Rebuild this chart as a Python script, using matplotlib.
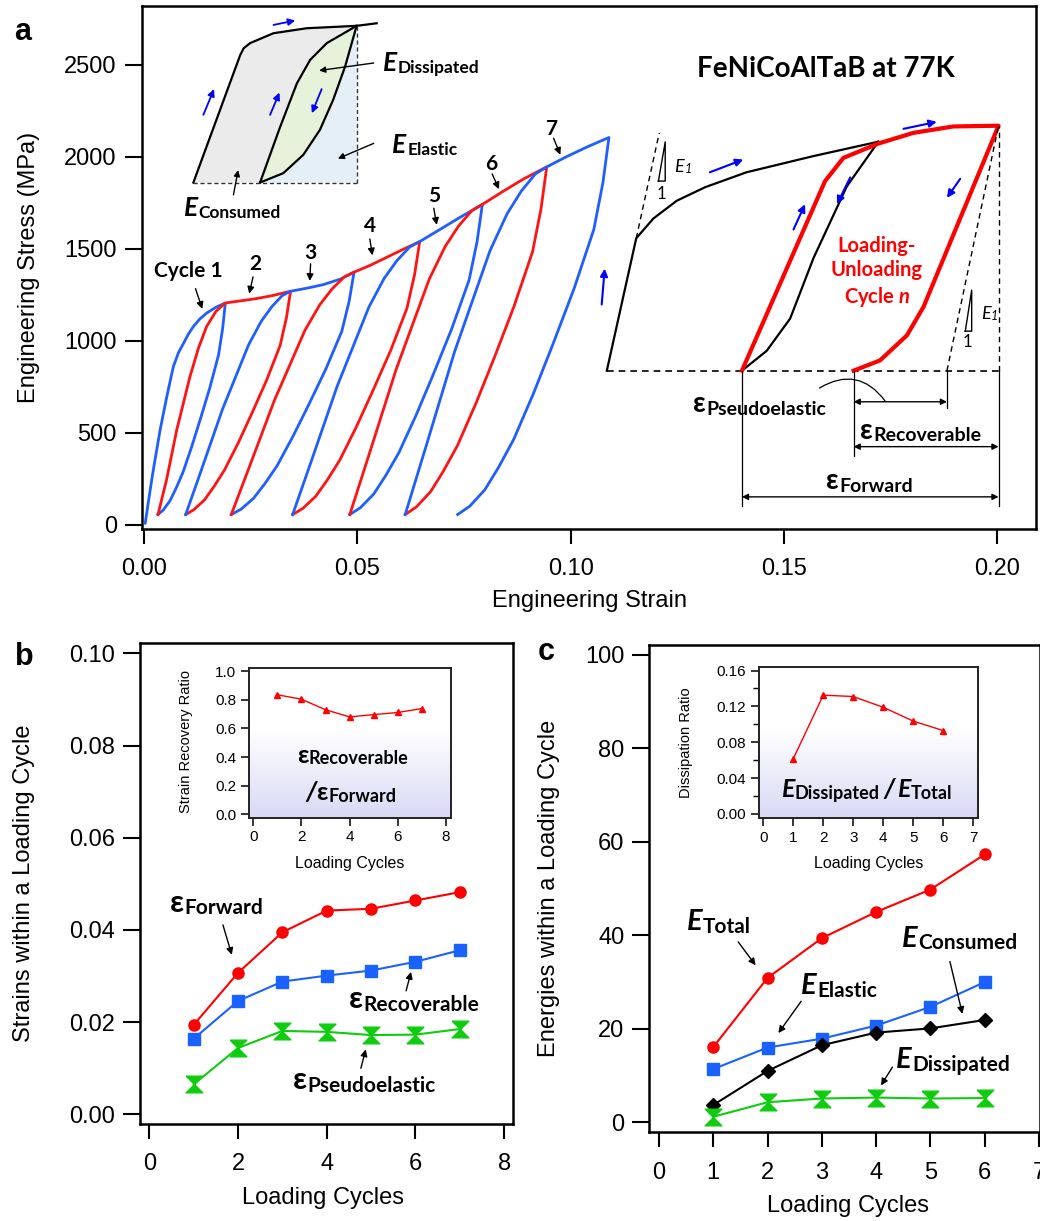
import numpy as np
import matplotlib
matplotlib.use("Agg")
import matplotlib.pyplot as plt
from matplotlib.ticker import MultipleLocator, FormatStrFormatter
from matplotlib.colors import LinearSegmentedColormap

plt.rcParams['font.family'] = ['Liberation Sans', 'DejaVu Sans']
plt.rcParams['mathtext.fontset'] = 'custom'
plt.rcParams['mathtext.it'] = 'Lato:bold:italic'
ANN = ['Lato', 'DejaVu Sans']

BLUE = '#1f5eff'
RED = '#ff1414'
GREEN = '#0fcc0f'

# ---------------- panel a: stress-strain cycles (strain, MPa) ----------------
# each cycle = reload from previous residual strain, envelope to new peak, unload
c1_strain = [0.0002, 0.0019, 0.0037, 0.0053, 0.0068, 0.0080, 0.0092, 0.0103, 0.0115, 0.0130,
             0.0146, 0.0168, 0.0190,
             0.01837, 0.01742, 0.01537, 0.01315, 0.0111, 0.00905, 0.00747, 0.00604, 0.00446, 0.0032]
c1_stress = [8, 270, 515, 700, 859, 935, 986, 1035, 1077, 1118, 1150, 1182, 1205,
             1067, 924, 745, 575, 423, 284, 199, 131, 80, 55]
c2_strain = [0.0032, 0.0052, 0.0076, 0.0107, 0.0127, 0.0146, 0.0168, 0.0190,
             0.0220, 0.0260, 0.0300, 0.0343,
             0.03332, 0.03184, 0.02864, 0.0252, 0.0220, 0.0188, 0.01634, 0.01413, 0.01167, 0.0097]
c2_stress = [55, 243, 515, 805, 960, 1077, 1160, 1205, 1215, 1228, 1245, 1269,
             1123, 973, 783, 604, 443, 297, 207, 135, 82, 55]
c3_strain = [0.0097, 0.01339, 0.01831, 0.02446, 0.02741, 0.02987, 0.03233, 0.0343,
             0.0380, 0.0420, 0.0460, 0.0492,
             0.04805, 0.04632, 0.04258, 0.03854, 0.0348, 0.03106, 0.02818, 0.02558, 0.0227, 0.0204]
c3_stress = [55, 298, 626, 978, 1105, 1184, 1245, 1269, 1285, 1305, 1335, 1373,
             1215, 1051, 846, 651, 477, 317, 220, 142, 84, 55]
c4_strain = [0.0204, 0.02472, 0.03048, 0.03768, 0.04114, 0.04402, 0.0469, 0.0492,
             0.0530, 0.0570, 0.0610, 0.0646,
             0.06341, 0.06162, 0.05775, 0.05357, 0.0497, 0.04583, 0.04285, 0.04016, 0.03718, 0.0348]
c4_stress = [55, 319, 674, 1057, 1195, 1281, 1347, 1373, 1410, 1455, 1500, 1539,
             1361, 1177, 945, 726, 530, 350, 240, 153, 88, 55]
c5_strain = [0.0348, 0.03927, 0.04523, 0.05268, 0.05626, 0.05924, 0.06222, 0.0646,
             0.0690, 0.0740, 0.0793,
             0.07806, 0.07619, 0.07215, 0.06779, 0.06375, 0.05971, 0.0566, 0.0538, 0.05069, 0.0482]
c5_stress = [55, 352, 752, 1183, 1339, 1435, 1509, 1539, 1600, 1670, 1741,
             1539, 1330, 1067, 817, 595, 391, 266, 166, 92, 55]
c6_strain = [0.0482, 0.05287, 0.05909, 0.06686, 0.07059, 0.0737, 0.07681, 0.0793,
             0.0840, 0.0890, 0.0944,
             0.09307, 0.09108, 0.08676, 0.08212, 0.0778, 0.07348, 0.07016, 0.06718, 0.06386, 0.0612]
c6_stress = [55, 392, 845, 1336, 1513, 1623, 1707, 1741, 1810, 1880, 1945,
             1718, 1484, 1189, 909, 660, 431, 291, 180, 97, 55]
c7_strain = [0.0612, 0.06618, 0.07282, 0.08112, 0.0851, 0.08842, 0.09174, 0.0944,
             0.0990, 0.1040, 0.1090,
             0.10758, 0.10545, 0.10084, 0.09587, 0.09125, 0.08664, 0.08309, 0.07989, 0.07634, 0.0735]
c7_stress = [55, 433, 943, 1491, 1690, 1813, 1907, 1945, 2000, 2055, 2105,
             1859, 1605, 1285, 982, 711, 463, 311, 190, 100, 55]
cycle_labels = ['Cycle 1', '2', '3', '4', '5', '6', '7']

# energy schematic (top left)
sch_load_x = [0.0115, 0.0225, 0.0233, 0.0248, 0.0303, 0.0381, 0.0498, 0.0545]
sch_load_y = [1860, 2554, 2590, 2618, 2672, 2699, 2712, 2726]
sch_reload_x = [0.02715, 0.0318, 0.0358, 0.0389, 0.0428, 0.0498]
sch_reload_y = [1860, 2159, 2400, 2527, 2618, 2712]
sch_unload_x = [0.0498, 0.0471, 0.0443, 0.0412, 0.0373, 0.0326, 0.02715]
sch_unload_y = [2712, 2491, 2310, 2147, 2011, 1911, 1860]

# loading-unloading schematic (right)
ref_load_x = [0.1085, 0.1154, 0.1194, 0.1249, 0.1316, 0.1413, 0.1570, 0.1722]
ref_load_y = [837, 1557, 1664, 1761, 1835, 1916, 2004, 2082]
ref_unload_x = [0.1722, 0.1648, 0.1570, 0.1515, 0.1460, 0.1402]
ref_unload_y = [2082, 1839, 1450, 1120, 945, 837]
cyc_x = [0.1402, 0.1597, 0.1640, 0.1722, 0.1804, 0.1898, 0.2004, 0.1828, 0.1789, 0.1726, 0.1664]
cyc_y = [837, 1868, 1994, 2072, 2130, 2165, 2169, 1184, 1029, 893, 837]

# ---------------- panel b ----------------
cycles_b = [1, 2, 3, 4, 5, 6, 7]
eps_forward = [0.0194, 0.0307, 0.0395, 0.0442, 0.0446, 0.0464, 0.0482]
eps_recoverable = [0.0164, 0.0246, 0.0288, 0.0301, 0.0312, 0.0331, 0.0356]
eps_pseudo = [0.0065, 0.0144, 0.0181, 0.0179, 0.0172, 0.0173, 0.0185]
recovery_ratio = [0.836, 0.805, 0.731, 0.681, 0.697, 0.712, 0.739]

# ---------------- panel c ----------------
cycles_c = [1, 2, 3, 4, 5, 6]
e_total = [16.1, 30.9, 39.4, 45.0, 49.8, 57.3]
e_elastic = [11.4, 16.0, 17.9, 20.7, 24.7, 30.0]
e_consumed = [3.7, 11.0, 16.5, 19.2, 20.1, 21.9]
e_dissipated = [1.2, 4.3, 5.1, 5.3, 5.1, 5.2]
dissipation_ratio = [0.0615, 0.1326, 0.131, 0.119, 0.1036, 0.093]

HOURGLASS = [(-1, 1), (1, 1), (-1, -1), (1, -1), (-1, 1)]


def sublabel(ax, x, y, main, sub, size, subsize, color='black', italic=True,
             weight='bold', sub_italic=False, transform=None):
    kw = {} if transform is None else {'transform': transform}
    t = ax.text(x, y, main, fontsize=size, fontweight=weight,
                fontstyle='italic' if italic else 'normal', family=ANN,
                color=color, ha='left', va='baseline', **kw)
    ax.annotate(sub, xy=(1, 0), xycoords=t, xytext=(0.5, 1.5), textcoords='offset points',
                fontsize=subsize, fontweight=weight, family=ANN, color=color,
                fontstyle='italic' if sub_italic else 'normal',
                ha='left', va='baseline')
    return t


def arrow(ax, tail, head, color='black', lw=1.0, ms=11, style='-|>'):
    ax.annotate('', xy=head, xytext=tail,
                arrowprops=dict(arrowstyle=style, color=color, lw=lw,
                                mutation_scale=ms, shrinkA=0, shrinkB=0))


def style_main(ax):
    for s in ax.spines.values():
        s.set_linewidth(1.8)
    ax.tick_params(axis='y', direction='out', length=12, width=1.5, labelsize=17, pad=6)
    ax.tick_params(axis='x', direction='out', length=11, width=1.5, labelsize=17, pad=10)


def style_inset(ax):
    for s in ax.spines.values():
        s.set_linewidth(1.4)
        s.set_color('#222222')
    ax.tick_params(direction='out', length=6, width=1.1, labelsize=11, pad=3)
    grad = np.linspace(0, 1, 256).reshape(-1, 1)
    grad = np.clip((grad - 0.42) / 0.58, 0, 1)
    cmap = LinearSegmentedColormap.from_list('lav', ['#ffffff', '#d9d9f6'])
    ax.imshow(grad, cmap=cmap, aspect='auto', extent=[0, 1, 0, 1],
              transform=ax.transAxes, zorder=0, vmin=0, vmax=1)


fig = plt.figure(figsize=(10.4, 12.21), dpi=100)

# ======================= panel a =======================
ax = fig.add_axes([0.1363, 0.5668, 0.8599, 0.4283])
style_main(ax)
curves = [(c1_strain, c1_stress), (c2_strain, c2_stress), (c3_strain, c3_stress),
          (c4_strain, c4_stress), (c5_strain, c5_stress), (c6_strain, c6_stress),
          (c7_strain, c7_stress)]
for i, (xs, ys) in enumerate(curves):
    ax.plot(xs, ys, color=BLUE if i % 2 == 0 else RED, lw=2.0,
            solid_joinstyle='round', zorder=3)
ax.set_xlim(-0.00061, 0.2092)
ax.set_ylim(-23.4, 2820)
ax.xaxis.set_major_locator(MultipleLocator(0.05))
ax.xaxis.set_major_formatter(FormatStrFormatter('%.2f'))
ax.yaxis.set_major_locator(MultipleLocator(500))
ax.set_xlabel('Engineering Strain', fontsize=17)
ax.set_ylabel('Engineering Stress (MPa)', fontsize=17)
ax.xaxis.set_label_coords(0.501, -0.117)
ax.yaxis.set_label_coords(-0.1137, 0.5)

# cycle number labels and arrows
lab_pos = [(0.0023, 1346), (0.0260, 1387), (0.0389, 1443), (0.0529, 1589),
           (0.0679, 1755), (0.0814, 1928), (0.0957, 2121)]
arr_tail = [(0.0120, 1283), (0.0255, 1347), (0.0390, 1418), (0.0529, 1553),
            (0.0679, 1720), (0.0816, 1907), (0.0960, 2101)]
arr_head = [(0.0136, 1173), (0.0246, 1256), (0.0388, 1325), (0.0535, 1464),
            (0.0686, 1630), (0.0832, 1824), (0.0976, 2011)]
for i, lab in enumerate(cycle_labels):
    ax.text(lab_pos[i][0], lab_pos[i][1], lab, fontsize=15, fontweight='bold', family=ANN,
            ha='left' if i == 0 else 'center', va='baseline')
    arrow(ax, arr_tail[i], arr_head[i], lw=1.0, ms=10)

# energy schematic
poly_gray_x = sch_load_x[:-1] + sch_reload_x[::-1]
poly_gray_y = sch_load_y[:-1] + sch_reload_y[::-1]
ax.fill(poly_gray_x, poly_gray_y, color='#ebebeb', lw=0, zorder=1)
ax.fill(sch_reload_x + sch_unload_x[1:], sch_reload_y + sch_unload_y[1:],
        color='#e6f2da', lw=0, zorder=1)
ax.fill(sch_unload_x + [sch_unload_x[0]], sch_unload_y + [sch_unload_y[-1]],
        color='#e4eff8', lw=0, zorder=1)
ax.plot(sch_load_x, sch_load_y, color='black', lw=1.6, zorder=2)
ax.plot(sch_reload_x, sch_reload_y, color='black', lw=1.6, zorder=2)
ax.plot(sch_unload_x, sch_unload_y, color='black', lw=1.6, zorder=2)
ax.plot([sch_load_x[0], sch_unload_x[0]], [1860, 1860], color='#333333', lw=1.0, ls=(0, (3, 2)))
ax.plot([sch_unload_x[0], sch_unload_x[0]], [1860, 2712], color='#333333', lw=1.0, ls=(0, (3, 2)))
for t, h in [((0.0303, 2717), (0.0354, 2741)), ((0.01384, 2228), (0.01635, 2368)),
             ((0.0295, 2228), (0.0317, 2349)), ((0.0416, 2368), (0.0393, 2237))]:
    arrow(ax, t, h, color='blue', lw=1.3, ms=10)
sublabel(ax, 0.0559, 2464, 'E', 'Dissipated', 19, 12.5)
sublabel(ax, 0.0582, 2021, 'E', 'Elastic', 19, 12.5)
sublabel(ax, 0.00927, 1678, 'E', 'Consumed', 19, 12.5)
arrow(ax, (0.0538, 2510), (0.0410, 2469), ms=9)
arrow(ax, (0.0538, 2073), (0.0454, 1990), ms=9)
arrow(ax, (0.0209, 1793), (0.0220, 1928), ms=9)

ax.text(0.1599, 2432, 'FeNiCoAlTaB at 77K', fontsize=20, fontweight='bold', family=ANN,
        ha='center', va='baseline')

# loading-unloading schematic
ax.plot([0.1085, 0.2004], [837, 837], color='black', lw=1.2, ls=(0, (4, 3)))
ax.plot(ref_load_x, ref_load_y, color='black', lw=1.6)
ax.plot(ref_unload_x, ref_unload_y, color='black', lw=1.6)
ax.plot(cyc_x, cyc_y, color='#ff0000', lw=3.0, solid_joinstyle='round')
ax.plot([0.1154, 0.1208], [1557, 2130], color='black', lw=1.0, ls=(0, (4, 3)))
ax.plot([0.1883, 0.2004], [837, 2169], color='black', lw=1.0, ls=(0, (4, 3)))
ax.plot([0.2004, 0.2004], [837, 2169], color='black', lw=1.0, ls=(0, (4, 3)))
ax.plot([0.1206, 0.1222, 0.1222, 0.1206], [1868, 2081, 1868, 1868], color='black', lw=1.0)
ax.plot([0.1926, 0.1941, 0.1941, 0.1926], [1052, 1275, 1052, 1052], color='black', lw=1.0)
sublabel(ax, 0.1243, 1915, 'E', '1', 13, 9, italic=True, weight='normal', sub_italic=True)
sublabel(ax, 0.1962, 1118, 'E', '1', 13, 9, italic=True, weight='normal', sub_italic=True)
ax.text(0.1212, 1770, '1', fontsize=12, family=ANN, ha='center', va='baseline')
ax.text(0.1932, 965, '1', fontsize=12, family=ANN, ha='center', va='baseline')
for xv, ylo in [(0.1402, 99), (0.1664, 371), (0.1883, 633), (0.2004, 99)]:
    ax.plot([xv, xv], [ylo, 837], color='black', lw=0.9)
arrow(ax, (0.1664, 668), (0.1883, 668), style='<|-|>', ms=9)
arrow(ax, (0.1664, 424), (0.2004, 424), style='<|-|>', ms=9)
arrow(ax, (0.1402, 151), (0.2004, 151), style='<|-|>', ms=9)
ax.annotate('', xy=(0.1738, 672), xytext=(0.1584, 743),
            arrowprops=dict(arrowstyle='-', lw=0.9, color='black',
                            connectionstyle='arc3,rad=-0.45', shrinkA=0, shrinkB=0))
sublabel(ax, 0.1288, 614, '\u03b5', 'Pseudoelastic', 20, 14, italic=False)
sublabel(ax, 0.1679, 468, '\u03b5', 'Recoverable', 20, 14, italic=False)
sublabel(ax, 0.1599, 196, '\u03b5', 'Forward', 20, 14, italic=False)
ax.text(0.1718, 1207, 'Loading-\nUnloading\nCycle $n$', fontsize=14.5, fontweight='bold',
        family=ANN, color='#ff0000', ha='center', va='baseline', linespacing=1.25,
        multialignment='center')
for t, h in [((0.1073, 1197), (0.1080, 1392)), ((0.1327, 1916), (0.1405, 1985)),
             ((0.1523, 1605), (0.1550, 1742)), ((0.1656, 1888), (0.1625, 1742)),
             ((0.1781, 2152), (0.1859, 2190)), ((0.1914, 1880), (0.1883, 1777))]:
    arrow(ax, t, h, color='blue', lw=1.5, ms=11)

fig.text(0.0135, 0.9672, 'a', fontsize=22, fontweight='bold', va='baseline')

# ======================= panel b =======================
bx = fig.add_axes([0.1346, 0.0794, 0.3587, 0.3937])
style_main(bx)
bx.plot(cycles_b, eps_forward, color='#ff0000', lw=1.5, marker='o', ms=8, zorder=3)
bx.plot(cycles_b, eps_recoverable, color='#1a62ff', lw=1.5, marker='s', ms=8, zorder=3)
bx.plot(cycles_b, eps_pseudo, color=GREEN, lw=1.5, marker=HOURGLASS, ms=12, zorder=3)
bx.set_xlim(-0.21, 8.2)
bx.set_ylim(-0.0021, 0.10217)
bx.xaxis.set_major_locator(MultipleLocator(2))
bx.yaxis.set_major_locator(MultipleLocator(0.02))
bx.yaxis.set_major_formatter(FormatStrFormatter('%.2f'))
bx.set_xlabel('Loading Cycles', fontsize=17)
bx.set_ylabel('Strains within a Loading Cycle', fontsize=17)
bx.xaxis.set_label_coords(0.49, -0.130)
bx.yaxis.set_label_coords(-0.2815, 0.501)
sublabel(bx, 0.467, 0.0440, '\u03b5', 'Forward', 22, 15, italic=False)
sublabel(bx, 4.49, 0.02315, '\u03b5', 'Recoverable', 22, 15, italic=False)
sublabel(bx, 3.235, 0.00557, '\u03b5', 'Pseudoelastic', 22, 15, italic=False)
arrow(bx, (1.66, 0.0411), (1.86, 0.0346), ms=10)
arrow(bx, (5.79, 0.0268), (5.90, 0.0309), ms=10)
arrow(bx, (4.77, 0.0100), (4.88, 0.0141), ms=10)
fig.text(0.0144, 0.4557, 'b', fontsize=22, fontweight='bold', va='baseline')

bi = fig.add_axes([0.2394, 0.3301, 0.1942, 0.1232])
style_inset(bi)
bi.plot(cycles_b, recovery_ratio, color='#ff0000', lw=1.0, marker='^', ms=4.5, zorder=3)
bi.set_xlim(-0.18, 8.21)
bi.set_ylim(-0.027, 1.027)
bi.xaxis.set_major_locator(MultipleLocator(2))
bi.yaxis.set_major_locator(MultipleLocator(0.2))
bi.yaxis.set_major_formatter(FormatStrFormatter('%.1f'))
bi.set_xlabel('Loading Cycles', fontsize=11.5)
bi.set_ylabel('Strain Recovery Ratio', fontsize=10.5)
bi.xaxis.set_label_coords(0.5, -0.253)
bi.yaxis.set_label_coords(-0.277, 0.506)
sublabel(bi, 1.80, 0.361, '\u03b5', 'Recoverable', 18, 13, italic=False)
bi.text(2.145, 0.097, '/', fontsize=19, fontweight='bold', fontstyle='italic',
        family=ANN, ha='left', va='baseline')
sublabel(bi, 2.62, 0.097, '\u03b5', 'Forward', 18, 13, italic=False)

# ======================= panel c =======================
cx = fig.add_axes([0.6243, 0.0726, 0.3757, 0.3991])
style_main(cx)
cx.plot(cycles_c, e_total, color='#ff0000', lw=1.5, marker='o', ms=8, zorder=3)
cx.plot(cycles_c, e_elastic, color='#1a62ff', lw=1.5, marker='s', ms=8, zorder=3)
cx.plot(cycles_c, e_consumed, color='black', lw=1.5, marker='D', ms=7, zorder=3)
cx.plot(cycles_c, e_dissipated, color=GREEN, lw=1.5, marker=HOURGLASS, ms=12, zorder=3)
cx.set_xlim(-0.179, 7.02)
cx.set_ylim(-2.14, 102.1)
cx.xaxis.set_major_locator(MultipleLocator(1))
cx.yaxis.set_major_locator(MultipleLocator(20))
cx.set_xlabel('Loading Cycles', fontsize=17)
cx.set_ylabel('Energies within a Loading Cycle', fontsize=17)
cx.xaxis.set_label_coords(0.509, -0.1295)
cx.yaxis.set_label_coords(-0.2286, 0.501)
sublabel(cx, 0.51, 41.2, 'E', 'Total', 21, 15)
sublabel(cx, 2.615, 27.5, 'E', 'Elastic', 21, 15)
sublabel(cx, 4.47, 37.6, 'E', 'Consumed', 21, 15)
sublabel(cx, 4.365, 11.6, 'E', 'Dissipated', 21, 15)
arrow(cx, (1.46, 38.6), (1.78, 33.6), ms=10)
arrow(cx, (2.62, 25.9), (2.20, 19.1), ms=10)
arrow(cx, (5.36, 34.4), (5.59, 23.2), ms=10)
arrow(cx, (4.30, 11.8), (4.09, 7.9), ms=10)
fig.text(0.5173, 0.4593, 'c', fontsize=22, fontweight='bold', va='baseline')

ci = fig.add_axes([0.7295, 0.3297, 0.2112, 0.1241])
style_inset(ci)
ci.plot(cycles_c, dissipation_ratio, color='#ff0000', lw=1.0, marker='^', ms=4.5, zorder=3)
ci.set_xlim(-0.153, 7.17)
ci.set_ylim(-0.0051, 0.1641)
ci.xaxis.set_major_locator(MultipleLocator(1))
ci.yaxis.set_major_locator(MultipleLocator(0.04))
ci.yaxis.set_minor_locator(MultipleLocator(0.02))
ci.yaxis.set_major_formatter(FormatStrFormatter('%.2f'))
ci.tick_params(which='minor', direction='out', length=4, width=1.0)
ci.set_xlabel('Loading Cycles', fontsize=11.5)
ci.set_ylabel('Dissipation Ratio', fontsize=10.5)
ci.xaxis.set_label_coords(0.499, -0.249)
ci.yaxis.set_label_coords(-0.299, 0.498)
sublabel(ci, 0.58, 0.0193, 'E', 'Dissipated', 18, 13)
ci.text(4.02, 0.0193, '/', fontsize=19, fontweight='bold', fontstyle='italic',
        family=ANN, ha='left', va='baseline')
sublabel(ci, 4.45, 0.0193, 'E', 'Total', 18, 13)

fig.savefig('out.png', dpi=100)
